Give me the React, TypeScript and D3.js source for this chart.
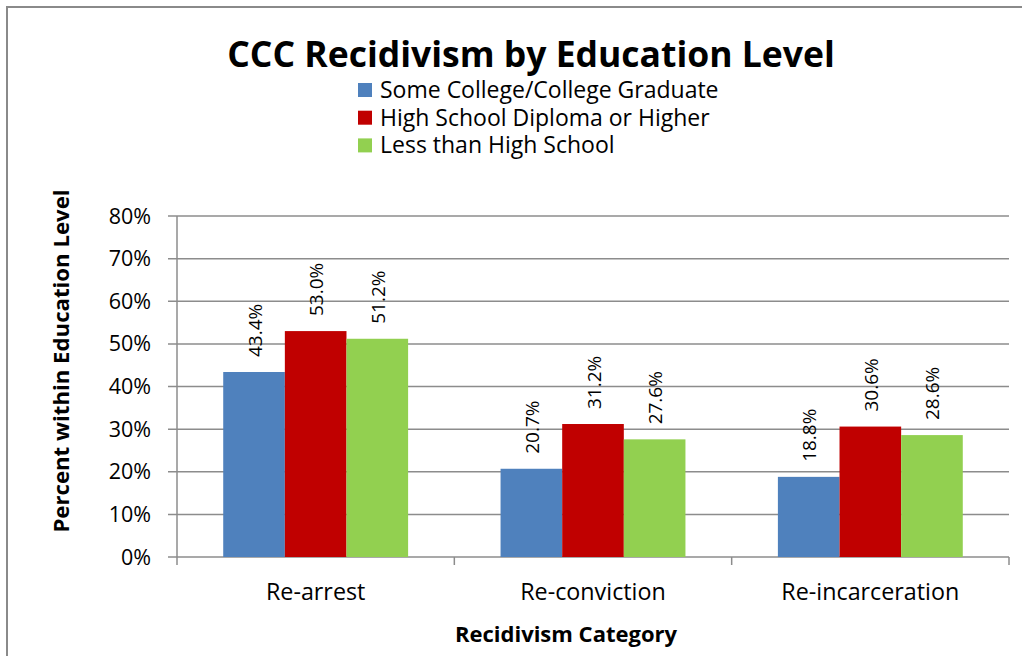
import React from "react";
import * as d3 from "d3";

const categories = ["Re-arrest", "Re-conviction", "Re-incarceration"];
const seriesNames = ["Some College/College Graduate", "High School Diploma or Higher", "Less than High School"];
const someCollege = [43.4, 20.7, 18.8];
const highSchool = [53.0, 31.2, 30.6];
const lessThanHS = [51.2, 27.6, 28.6];
const yTicks = [0, 10, 20, 30, 40, 50, 60, 70, 80];
const colors = ["#4F81BD", "#C00000", "#92D050"];

const FONT = "'Open Sans', sans-serif";

export default function App() {
  const series = [someCollege, highSchool, lessThanHS];
  const left = 177, right = 1009, top = 216, bottom = 557;
  const x = d3.scaleBand<string>().domain(categories).range([left, right]).paddingInner(0).paddingOuter(0);
  const y = d3.scaleLinear().domain([0, 80]).range([bottom, top]);
  const bw = x.bandwidth() / 4.5;
  const gridColor = "#8c8c8c";
  return (
    <svg width={1022} height={656} style={{ position: "absolute", left: 0, top: 0, background: "#fff" }} fontFamily={FONT}>
      <rect x={7} y={7} width={1030} height={660} fill="none" stroke="#8a8a8a" strokeWidth={2} />
      <text x={531} y={67} textAnchor="middle" fontSize={35.5} fontWeight="bold" fill="#000">CCC Recidivism by Education Level</text>
      {seriesNames.map((n, i) => (
        <g key={n}>
          <rect x={358} y={83 + i * 27.7} width={14} height={14} fill={colors[i]} />
          <text x={380} y={98 + i * 27.7} fontSize={23} fill="#000">{n}</text>
        </g>
      ))}
      {yTicks.map(t => (
        <g key={t}>
          <line x1={168} x2={right} y1={y(t)} y2={y(t)} stroke={gridColor} strokeWidth={1.5} />
          <text x={151} y={y(t) + 7.5} textAnchor="end" fontSize={21.5} fill="#000">{t}%</text>
        </g>
      ))}
      <line x1={left} x2={left} y1={top} y2={bottom + 8} stroke={gridColor} strokeWidth={1.5} />
      {categories.map((c, ci) => (
        <g key={c}>
          <line x1={(x(c) as number) + x.bandwidth()} x2={(x(c) as number) + x.bandwidth()} y1={bottom} y2={bottom + 8} stroke={gridColor} strokeWidth={1.5} />
          <text x={(x(c) as number) + x.bandwidth() / 2} y={600} textAnchor="middle" fontSize={23.3} fill="#000">{c}</text>
          {series.map((s, si) => {
            const bx = (x(c) as number) + bw * 0.75 + si * bw;
            const v = s[ci];
            const cx = bx + bw / 2;
            const ly = y(v) - 15;
            return (
              <g key={si}>
                <rect x={bx} y={y(v)} width={bw} height={bottom - y(v)} fill={colors[si]} />
                <text transform={`translate(${cx + 7.5},${ly}) rotate(-90)`} fontSize={19} fill="#000">{v.toFixed(1)}%</text>
              </g>
            );
          })}
        </g>
      ))}
      <text x={566} y={642} textAnchor="middle" fontSize={22} fontWeight="bold" fill="#000">Recidivism Category</text>
      <text transform={`translate(69,361) rotate(-90)`} textAnchor="middle" fontSize={22.2} fontWeight="bold" fill="#000">Percent within Education Level</text>
    </svg>
  );
}
